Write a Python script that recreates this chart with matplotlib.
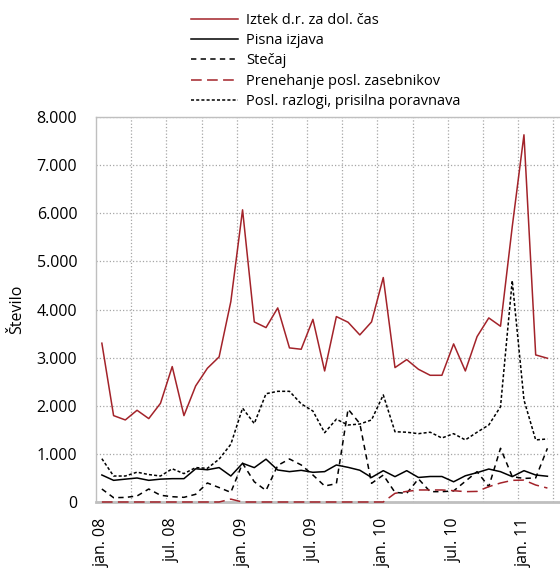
import matplotlib
matplotlib.use('Agg')
import matplotlib.pyplot as plt

plt.rcParams['font.family'] = ['Open Sans', 'DejaVu Sans']

# mesečni podatki jan. 08 - mar. 11
meseci = list(range(39))
oznake_pos = [0, 6, 12, 18, 24, 30, 36]
oznake = ['jan. 08', 'jul. 08', 'jan. 09', 'jul. 09', 'jan. 10', 'jul. 10', 'jan. 11']

iztek = [3300, 1795, 1705, 1906, 1733, 2051, 2814, 1795, 2412, 2779, 3015, 4165,
         6071, 3742, 3624, 4033, 3202, 3174, 3795, 2723, 3853, 3735, 3472, 3742,
         4664, 2793, 2959, 2758, 2633, 2633, 3285, 2723, 3437, 3825, 3652, 5720,
         7630, 3056, 2987]
pisna = [561, 450, 475, 499, 450, 475, 485, 485, 690, 670, 715, 540,
         804, 714, 890, 665, 631, 658, 617, 631, 769, 720, 660, 510,
         651, 527, 651, 510, 530, 530, 420, 545, 610, 685, 630, 527,
         651, 561, 535]
stecaj = [270, 90, 95, 125, 270, 140, 110, 97, 160, 395, 300, 200,
          804, 420, 240, 760, 894, 770, 561, 333, 380, 1930, 1630, 388,
          560, 200, 180, 480, 215, 215, 230, 430, 630, 320, 1116, 527,
          490, 500, 1116]
prenehanje = [0, 0, 0, 0, 0, 0, 0, 0, 0, 0, 0, 60,
              0, 0, 0, 0, 0, 0, 0, 0, 0, 0, 0, 0,
              0, 180, 220, 250, 250, 250, 235, 215, 220, 319, 395, 450,
              455, 353, 290]
posl_razlogi = [900, 540, 540, 620, 570, 540, 690, 590, 715, 700, 890, 1200,
                1950, 1630, 2250, 2300, 2300, 2040, 1890, 1440, 1720, 1600, 1620, 1705,
                2225, 1460, 1450, 1420, 1450, 1330, 1420, 1290, 1450, 1600, 1980, 4600,
                2120, 1290, 1310]

rdeca = '#a3232a'

fig = plt.figure(figsize=(5.6, 5.72), dpi=100)
ax = fig.add_axes([96 / 560, 70 / 572, 469 / 560, 385 / 572])

l1, = ax.plot(meseci, iztek, color=rdeca, lw=1.1)
l2, = ax.plot(meseci, pisna, color='black', lw=1.1)
l3, = ax.plot(meseci, stecaj, color='black', lw=1.1, dashes=(3.5, 2.8))
l4, = ax.plot(meseci, prenehanje, color=rdeca, lw=1.1, dashes=(7, 3.5))
l5, = ax.plot(meseci, posl_razlogi, color='black', lw=1.1, dashes=(2, 1.4))
for l in [l1, l2, l3, l4, l5]:
    l.set_clip_on(False)
    l.set_zorder(3)

ax.set_xlim(-0.5, 39.5)
ax.set_ylim(0, 8000)
ax.set_yticks(range(0, 8001, 1000))
ax.set_yticklabels(['0' if v == 0 else f'{v // 1000}.000' for v in range(0, 8001, 1000)],
                   fontsize=11.5)
ax.set_xticks(oznake_pos)
ax.set_xticklabels(oznake, rotation=90, fontsize=11.5)
ax.set_xticks([k * 3 - 0.5 for k in range(1, 14)], minor=True)
ax.tick_params(axis='both', which='both', length=0)
ax.tick_params(axis='y', pad=13.5)
ax.tick_params(axis='x', pad=11)

ax.grid(axis='y', which='major', color='#a6a6a6', linestyle=':', lw=0.9)
ax.grid(axis='x', which='minor', color='#a6a6a6', linestyle=':', lw=0.9)
ax.set_axisbelow(True)

for s in ['left', 'top', 'right']:
    ax.spines[s].set_color('#bfbfbf')
    ax.spines[s].set_linewidth(1.0)
ax.spines['bottom'].set_color('#bfbfbf')
ax.spines['bottom'].set_linewidth(2.0)

ax.set_ylabel('Število', fontsize=11.5, labelpad=8)

fig.legend([l1, l2, l3, l4, l5],
           ['Iztek d.r. za dol. čas', 'Pisna izjava', 'Stečaj',
            'Prenehanje posl. zasebnikov', 'Posl. razlogi, prisilna poravnava'],
           loc='upper left', bbox_to_anchor=(191 / 560, 1 - 13 / 572),
           frameon=False, fontsize=10.5, handlelength=3.2, handletextpad=0.6,
           labelspacing=0.36, borderpad=0, borderaxespad=0)

fig.savefig('out.png', dpi=100)
